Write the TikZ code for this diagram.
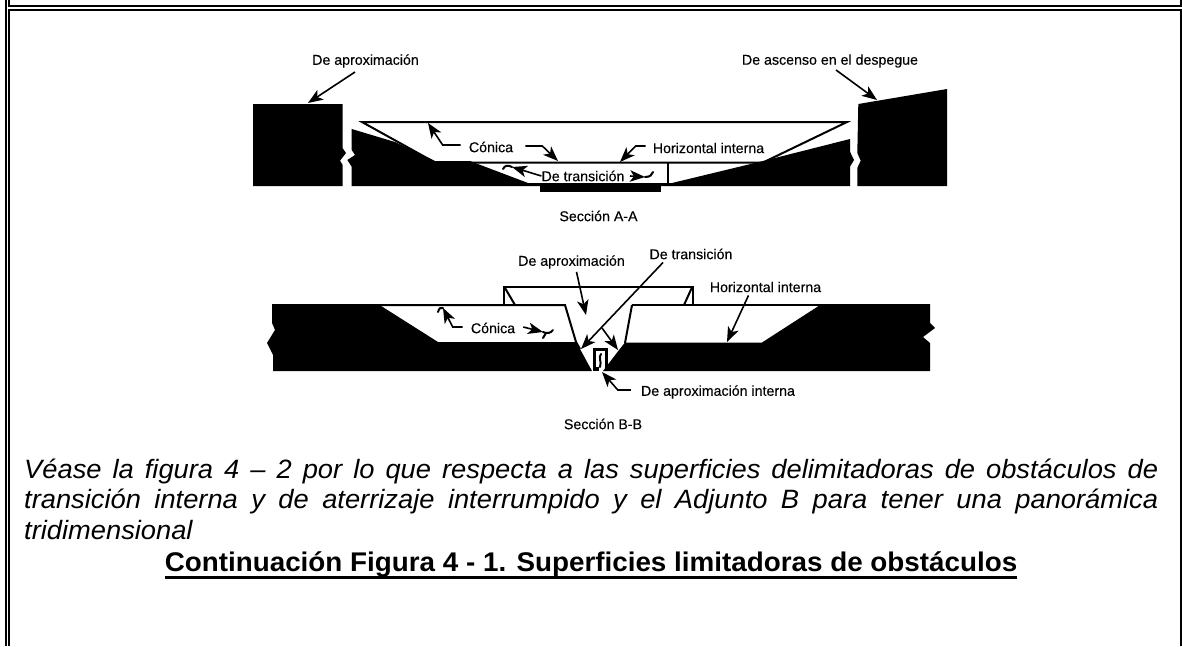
\documentclass[tikz,border=0pt]{standalone}
\usepackage{fontspec}
\setmainfont{Liberation Sans}
\newfontfamily\labfont[FakeBold=0.25]{Liberation Sans}
\newfontfamily\capfont[FakeStretch=1.03,ItalicFont={Liberation Sans Italic},BoldFont={Liberation Sans Bold}]{Liberation Sans}
\usetikzlibrary{arrows.meta}
\tikzset{
  solid fill/.style={fill=black,draw=none},
  surf/.style={draw=black,line width=2,line join=miter},
  frame/.style={draw=black,line width=2},
  lab/.style={inner sep=0pt,font=\labfont\fontsize{14.2}{16}\selectfont},
  leader/.style={draw=black,line width=1.6,-{Stealth[length=15,width=11.5,inset=4]}},
  hook/.style={draw=black,line width=2,line cap=round},
}
\begin{document}
\begin{tikzpicture}[x=1pt,y=-1pt]
\useasboundingbox (0,0) rectangle (1182,646);
% frame
\draw[frame] (6,0) -- (6,646);
\draw[frame] (9,0) -- (9,5);
\draw[frame] (9,9.8) -- (9,646);
\draw[frame] (8,6) -- (1182,6);
\draw[frame,line width=1.6] (8,9.8) -- (1182,9.8);
\draw[frame] (1181,0) -- (1181,5);
\draw[frame] (1181,9) -- (1181,646);

% ---------- Section A-A
\fill[solid fill] (253,104) -- (342.7,104) -- (342.7,148.3) -- (346,153) -- (340,160.7) -- (342.7,165) -- (342.7,186) -- (253,186) -- cycle;
\fill[solid fill] (351.7,129) -- (395,142) -- (435,161) -- (470,161) -- (528,183) -- (672,183) -- (763,161) -- (850,139) -- (850,151.7) -- (854,160) -- (850,166.7) -- (850,186) -- (351.7,186) -- (351.7,166.7) -- (347.3,160) -- (355,155) -- (351.7,150) -- cycle;
\fill[solid fill] (858.3,104) -- (947,89) -- (947,186) -- (857.3,186) -- (857.3,168) -- (860.7,160.7) -- (857.3,153) -- cycle;
\fill[solid fill] (540,184) rectangle (660.5,192);
\fill[solid fill] (660,184) rectangle (670,186);
\draw[surf] (362,122) -- (847,122) -- (763,162.5) -- (435,162.5) -- cycle;
\draw[surf] (667.7,162) -- (667.7,185);

\node[lab,anchor=center] (aprA) at (365.5,61) {De aproximación};
\node[lab,anchor=center] (ascA) at (830,61) {De ascenso en el despegue};
\node[lab,anchor=center] (conA) at (491,147) {Cónica};
\node[lab,anchor=center] (horA) at (708.5,148) {Horizontal interna};
\node[lab,anchor=center] (traA) at (583,176) {De transición};
\node[lab,anchor=center] (secA) at (598.5,216) {Sección A-A};

\coordinate (tAprA) at (308,103);
\coordinate (tAscA) at (877,100);
\coordinate (tConAl) at (428,123);
\coordinate (tConAr) at (558,161);
\coordinate (tHorA) at (620,162);
\coordinate (tTraAl) at (512,167);
\coordinate (tTraAr) at (645,177);
\coordinate (sAprA) at (355,72);
\coordinate (sAscA) at (836,70);
\coordinate (sTraAr) at (630,176);

\draw[leader] (sAprA) -- (tAprA);
\draw[leader] (sAscA) -- (tAscA);
\draw[leader] (conA.west) ++(-8,-2) -- ++(-18,0) -- (tConAl);
\draw[leader] (conA.east) ++(12,-1) -- ++(17,0) -- (tConAr);
\draw[leader] (horA.west) ++(-7,-2) -- ++(-10,0) -- (tHorA);
\draw[leader] (traA.west) -- (tTraAl);
\draw[leader] (sTraAr) -- (tTraAr);
\draw[hook] (503,169) .. controls (505,165) and (508,165) .. (tTraAl);
\draw[hook] (tTraAr) .. controls (650,177) and (652,175) .. (653,172);

% ---------- Section B-B
\draw[surf] (504.3,305) -- (504.3,287.3) -- (692.7,287.3) -- (692.7,305);
\draw[surf] (505,288) -- (515,305);
\draw[surf] (691.7,288) -- (684,305);
\fill[solid fill] (272,304) -- (378,304) -- (438,342) -- (576,342) -- (580,349) -- (592,371) -- (273,371) -- (273,355) -- (267,343) -- (275,330) -- (272,323) -- cycle;
\fill[solid fill] (625,342.5) -- (762,342.5) -- (821.7,304) -- (930,304) -- (930,323) -- (935,328) -- (923,337) -- (930,343) -- (930,371) -- (603,371) -- (619,350) -- cycle;
\draw[surf] (272,305) -- (565,305) -- (576,342) -- (580,349);
\draw[surf] (632,305) -- (822,305);
\draw[surf] (632,305) -- (625,343);
\draw[draw=black,line width=3] (594.5,369.5) -- (594.5,349) -- (606,349) -- (606,369.5);
\fill[solid fill] (593,367) rectangle (599,371);
\draw[hook] (601,354) .. controls (598,358) and (602,361) .. (600,367);

\node[lab,anchor=center] (aprB) at (571.5,262) {De aproximación};
\node[lab,anchor=center] (traB) at (691,254) {De transición};
\node[lab,anchor=center] (horB) at (765.5,287) {Horizontal interna};
\node[lab,anchor=center] (conB) at (493,328) {Cónica};
\node[lab,anchor=center] (intB) at (718,392) {De aproximación interna};
\node[lab,anchor=center] (secB) at (603,424) {Sección B-B};

\coordinate (tAprB) at (586,315);
\coordinate (tTraBl) at (581,349);
\coordinate (tTraBr) at (618,350);
\coordinate (mTraB) at (602,328);
\coordinate (tHorB) at (727,342);
\coordinate (tConBl) at (443,308);
\coordinate (tConBr) at (543,332);
\coordinate (tIntB) at (602,372);

\draw[leader] (aprB.south) ++(5,3) -- (tAprB);
\draw[leader] (traB.south) ++(-28,3) -- (tTraBl);
\draw[leader] (mTraB) -- (tTraBr);
\draw[leader] (horB.south) ++(-17,3) -- (tHorB);
\draw[leader] (conB.west) ++(-8,-1) -- ++(-10,0) -- (tConBl);
\draw[leader] (conB.east) ++(8,-1) -- (tConBr);
\draw[leader] (intB.west) ++(-10,-2) -- ++(-13,0) -- (tIntB);
\draw[hook] (438,312) .. controls (439,308) and (441,307) .. (tConBl);
\draw[hook] (tConBr) .. controls (547,334) and (551,333) .. (553,330);
\draw[hook] (543,338) -- (546,333);

% ---------- Caption
\node[inner sep=0pt,anchor=base west,text width=1134pt,align=justify,font=\capfont\fontsize{26.5}{30.3}\selectfont\itshape] (cap) at (24,478.5)
  {Véase la figura 4 – 2 por lo que respecta a las superficies delimitadoras de obstáculos de\linebreak transición interna y de aterrizaje interrumpido y el Adjunto B para tener una panorámica\linebreak tridimensional\par};
\node[inner sep=0pt,anchor=base,font=\capfont\fontsize{27}{30}\selectfont\bfseries] (title) at (591,571)
  {Continuación Figura 4 - 1. Superficies limitadoras de obstáculos};
\draw[draw=black,line width=2.6] ([yshift=-6.5pt]title.base west) -- ([yshift=-6.5pt]title.base east);
\end{tikzpicture}
\end{document}
